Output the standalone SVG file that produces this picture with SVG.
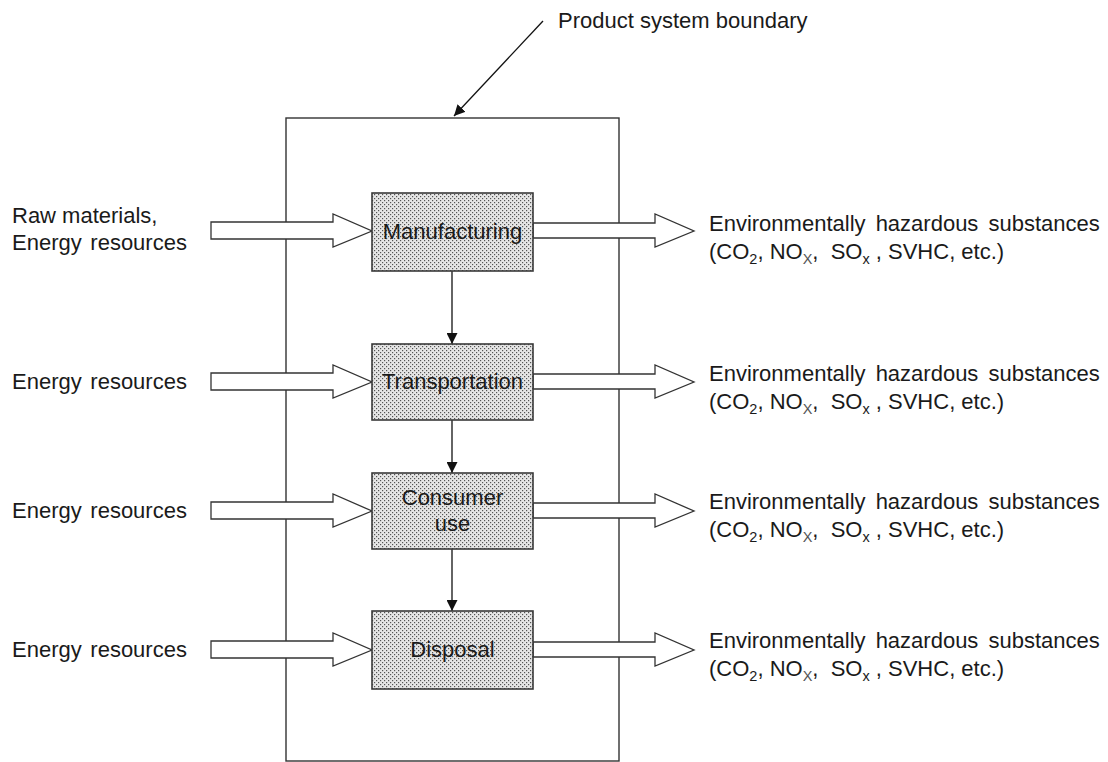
<svg xmlns="http://www.w3.org/2000/svg" width="1108" height="762" viewBox="0 0 1108 762">
<style>
text{font-family:"Liberation Sans",Arial,sans-serif;font-size:22px;fill:#1a1a1a}
.c{text-anchor:middle}
.sub{font-size:14.5px}
.box{fill:url(#dots);stroke:#3a3a3a;stroke-width:1.6}
.fat{fill:#fff;stroke:#333;stroke-width:1.3}
.ln{stroke:#111;stroke-width:1.3;fill:none}
.env{word-spacing:4px}
.er{word-spacing:2.5px}
</style>
<defs>
<pattern id="dots" width="4" height="4" patternUnits="userSpaceOnUse">
<rect width="4" height="4" fill="#e6e6e6"/>
<rect x="0" y="0" width="1.2" height="1.2" fill="#555"/>
<rect x="2" y="2" width="1.2" height="1.2" fill="#555"/>
</pattern>
<marker id="ah" viewBox="0 0 10 10" refX="10" refY="5" markerWidth="11" markerHeight="11" markerUnits="userSpaceOnUse" orient="auto">
<path d="M0,0 L10,5 L0,10 z" fill="#111"/>
</marker>
</defs>
<g id="boundary">
<rect x="286" y="118" width="333" height="643" fill="none" stroke="#333" stroke-width="1.4"/>
<text x="558" y="28">Product system boundary</text>
</g>
<g id="connectors">
<line class="ln" x1="543" y1="21" x2="454" y2="116" marker-end="url(#ah)"/>
<line class="ln" x1="452" y1="271" x2="452" y2="344" marker-end="url(#ah)"/>
<line class="ln" x1="452" y1="420" x2="452" y2="473" marker-end="url(#ah)"/>
<line class="ln" x1="452" y1="549" x2="452" y2="611" marker-end="url(#ah)"/>
<path class="fat" d="M211,222 H333 V214 L372,231 L333,247 V239 H211 Z"/>
<path class="fat" d="M533,223 H655 V214 L694,231 L655,247 V238 H533 Z"/>
<path class="fat" d="M211,373 H333 V365 L372,382 L333,398 V390 H211 Z"/>
<path class="fat" d="M533,374 H655 V365 L694,382 L655,398 V389 H533 Z"/>
<path class="fat" d="M211,502 H333 V494 L372,511 L333,527 V519 H211 Z"/>
<path class="fat" d="M533,503 H655 V494 L694,511 L655,527 V518 H533 Z"/>
<path class="fat" d="M211,641 H333 V633 L372,650 L333,666 V658 H211 Z"/>
<path class="fat" d="M533,642 H655 V633 L694,650 L655,666 V657 H533 Z"/>
</g>
<g id="manufacturing">
<rect class="box" x="372" y="193" width="161" height="78"/>
<text class="c" x="452.5" y="239">Manufacturing</text>
</g>
<g id="transportation">
<rect class="box" x="372" y="344" width="161" height="76"/>
<text class="c" x="452.5" y="389">Transportation</text>
</g>
<g id="consumer-use">
<rect class="box" x="372" y="473" width="161" height="76"/>
<text class="c" x="452.5" y="505">Consumer</text>
<text class="c" x="452.5" y="531">use</text>
</g>
<g id="disposal">
<rect class="box" x="372" y="611" width="161" height="78"/>
<text class="c" x="452.5" y="657">Disposal</text>
</g>
<g id="inputs">
<text x="12" y="223">Raw materials,</text>
<text class="er" x="12" y="250">Energy resources</text>
<text class="er" x="12" y="389">Energy resources</text>
<text class="er" x="12" y="518">Energy resources</text>
<text class="er" x="12" y="657">Energy resources</text>
</g>
<g id="outputs">
<text class="env" x="709" y="231">Environmentally hazardous substances</text>
<text x="709" y="259">(CO<tspan class="sub" dy="5">2</tspan><tspan dy="-5">, NO</tspan><tspan class="sub" dy="5" fill="#555">X</tspan><tspan dy="-5" xml:space="preserve">,  SO</tspan><tspan class="sub" dy="5">x</tspan><tspan dy="-5" xml:space="preserve"> , SVHC, etc.)</tspan></text>
<text class="env" x="709" y="381">Environmentally hazardous substances</text>
<text x="709" y="409">(CO<tspan class="sub" dy="5">2</tspan><tspan dy="-5">, NO</tspan><tspan class="sub" dy="5" fill="#555">X</tspan><tspan dy="-5" xml:space="preserve">,  SO</tspan><tspan class="sub" dy="5">x</tspan><tspan dy="-5" xml:space="preserve"> , SVHC, etc.)</tspan></text>
<text class="env" x="709" y="509">Environmentally hazardous substances</text>
<text x="709" y="537">(CO<tspan class="sub" dy="5">2</tspan><tspan dy="-5">, NO</tspan><tspan class="sub" dy="5" fill="#555">X</tspan><tspan dy="-5" xml:space="preserve">,  SO</tspan><tspan class="sub" dy="5">x</tspan><tspan dy="-5" xml:space="preserve"> , SVHC, etc.)</tspan></text>
<text class="env" x="709" y="648">Environmentally hazardous substances</text>
<text x="709" y="676">(CO<tspan class="sub" dy="5">2</tspan><tspan dy="-5">, NO</tspan><tspan class="sub" dy="5" fill="#555">X</tspan><tspan dy="-5" xml:space="preserve">,  SO</tspan><tspan class="sub" dy="5">x</tspan><tspan dy="-5" xml:space="preserve"> , SVHC, etc.)</tspan></text>
</g>
</svg>
